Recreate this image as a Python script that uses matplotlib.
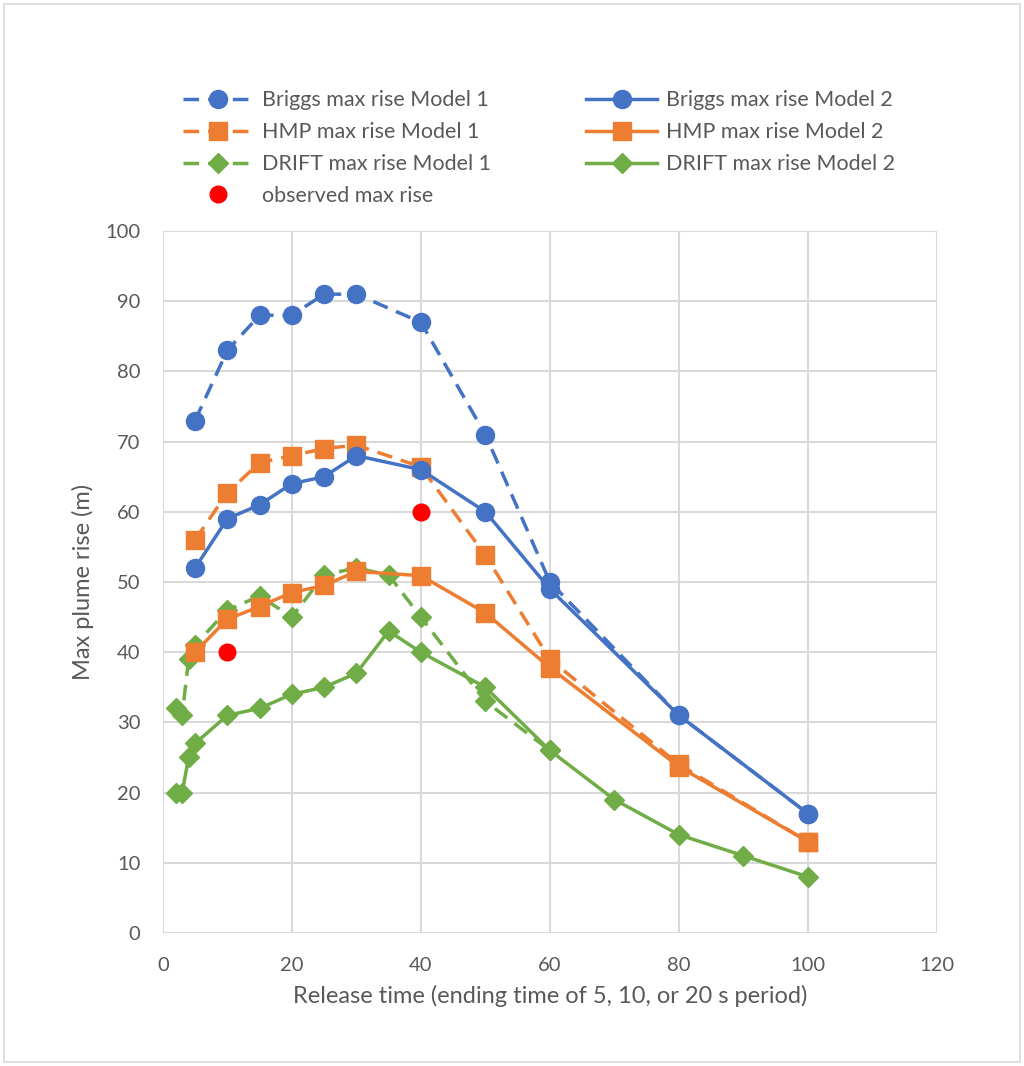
import matplotlib.pyplot as plt
from matplotlib.patches import Rectangle

# release time (s) and max plume rise (m)
briggs_x1 = [5, 10, 15, 20, 25, 30, 40, 50, 60, 80, 100]
briggs_m1 = [73, 83, 88, 88, 91, 91, 87, 71, 50, 31, 17]
briggs_x2 = [5, 10, 15, 20, 25, 30, 40, 50, 60, 80, 100]
briggs_m2 = [52, 59, 61, 64, 65, 68, 66, 60, 49, 31, 17]

hmp_x1 = [5, 10, 15, 20, 25, 30, 40, 50, 60, 80, 100]
hmp_m1 = [56, 62.7, 67, 68, 69, 69.5, 66.4, 53.8, 39, 24, 13]
hmp_x2 = [5, 10, 15, 20, 25, 30, 40, 50, 60, 80, 100]
hmp_m2 = [40, 44.7, 46.5, 48.5, 49.5, 51.5, 50.9, 45.6, 37.8, 23.7, 13]

drift_x1 = [2, 3, 4, 5, 10, 15, 20, 25, 30, 35, 40, 50, 60]
drift_m1 = [32, 31, 39, 41, 46, 48, 45, 51, 52, 51, 45, 33, 26]
drift_x2 = [2, 3, 4, 5, 10, 15, 20, 25, 30, 35, 40, 50, 60, 70, 80, 90, 100]
drift_m2 = [20, 20, 25, 27, 31, 32, 34, 35, 37, 43, 40, 35, 26, 19, 14, 11, 8]

obs_x = [10, 40]
obs_y = [40, 60]

BLUE = '#4472C4'
ORANGE = '#ED7D31'
GREEN = '#70AD47'
TXT = '#595959'
GRID = '#D9D9D9'

plt.rcParams['font.family'] = ['Lato', 'DejaVu Sans']

fig = plt.figure(figsize=(10.24, 10.66), dpi=100)
ax = fig.add_axes([0.159, 0.1248, 0.756, 0.6585])

dash = (0, (4.5, 2.6))
lw = 2.5

h_b1, = ax.plot(briggs_x1, briggs_m1, color=BLUE, ls=dash, lw=lw, marker='o', ms=13,
                label='Briggs max rise Model 1', zorder=3)
h_h1, = ax.plot(hmp_x1, hmp_m1, color=ORANGE, ls=dash, lw=lw, marker='s', ms=13,
                label='HMP max rise Model 1', zorder=3)
h_d1, = ax.plot(drift_x1, drift_m1, color=GREEN, ls=dash, lw=lw, marker='D', ms=10,
                label='DRIFT max rise Model 1', zorder=3)
h_b2, = ax.plot(briggs_x2, briggs_m2, color=BLUE, lw=lw, marker='o', ms=13,
                label='Briggs max rise Model 2', zorder=4)
h_h2, = ax.plot(hmp_x2, hmp_m2, color=ORANGE, lw=lw, marker='s', ms=13,
                label='HMP max rise Model 2', zorder=4)
h_d2, = ax.plot(drift_x2, drift_m2, color=GREEN, lw=lw, marker='D', ms=10,
                label='DRIFT max rise Model 2', zorder=4)
h_obs, = ax.plot(obs_x, obs_y, ls='none', marker='o', ms=12, color='#FF0000',
                 label='observed max rise', zorder=5)

ax.set_xlim(0, 120)
ax.set_ylim(0, 100)
ax.set_xticks(range(0, 121, 20))
ax.set_yticks(range(0, 101, 10))
ax.grid(True, color=GRID, lw=1.5)
ax.set_axisbelow(True)
for s in ax.spines.values():
    s.set_visible(False)
ax.tick_params(length=0, labelsize=14.5, labelcolor=TXT)
ax.tick_params(axis='x', pad=17)
ax.tick_params(axis='y', pad=16)
ax.set_xlabel('Release time (ending time of 5, 10, or 20 s period)', fontsize=17, color=TXT, labelpad=8)
ax.set_ylabel('Max plume rise (m)', fontsize=17, color=TXT, labelpad=8)

handles = [h_b1, h_h1, h_d1, h_obs, h_b2, h_h2, h_d2]
leg = fig.legend(handles=handles, loc='center', bbox_to_anchor=(0.526, 0.861), ncol=2,
                 frameon=False, fontsize=15.5, handlelength=3.3, columnspacing=4.4,
                 labelspacing=0.55, handletextpad=0.4)
for t in leg.get_texts():
    t.set_color(TXT)

# chart border
fig.patches.append(Rectangle((0.004, 0.004), 0.992, 0.992, transform=fig.transFigure,
                             fill=False, edgecolor=GRID, lw=1.2))

fig.savefig('out.png', dpi=100)
